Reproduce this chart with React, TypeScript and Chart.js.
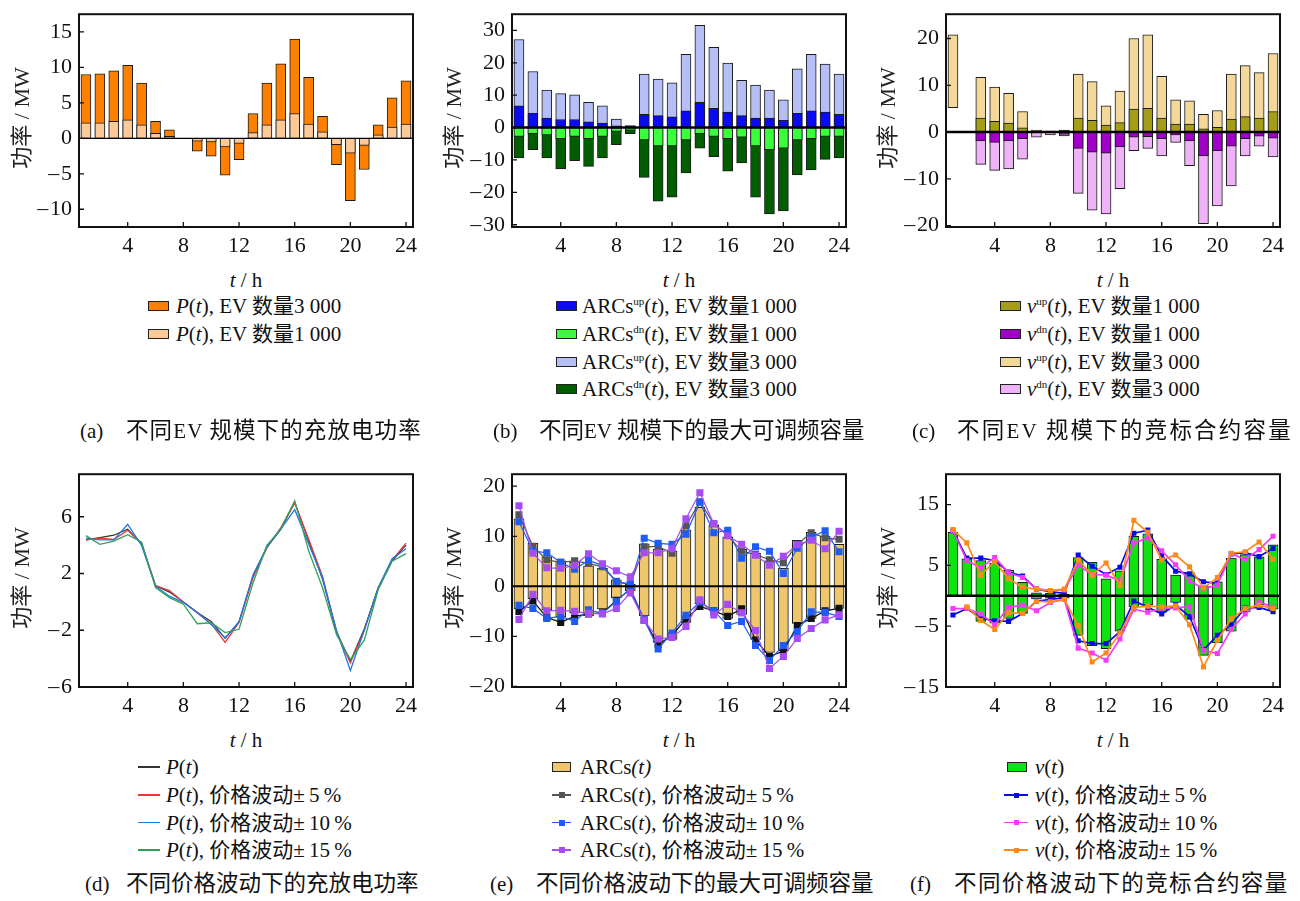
import React, { useEffect, useRef } from "react";
import { Chart, registerables } from "chart.js";
Chart.register(...registerables);
Chart.defaults.font.family = "'Liberation Serif', serif";
Chart.defaults.font.size = 22;

// ---------------- DATA ----------------
const hours = [1, 2, 3, 4, 5, 6, 7, 8, 9, 10, 11, 12, 13, 14, 15, 16, 17, 18, 19, 20, 21, 22, 23, 24];
const xTicks = [4, 8, 12, 16, 20, 24];

// (a)
const aTicks = [-10, -5, 0, 5, 10, 15];
const pEv3000 = [9.0, 9.1, 9.5, 10.3, 7.8, 2.4, 1.2, null, -1.8, -2.5, -5.2, -3.0, 3.5, 7.8, 10.5, 14.0, 8.6, 3.1, -3.7, -8.8, -4.4, 1.9, 5.7, 8.1];
const pEv1000 = [2.2, 2.2, 2.4, 2.6, 1.9, 0.7, 0.3, null, -0.4, -0.5, -1.2, -0.7, 0.8, 1.9, 2.6, 3.5, 2.0, 0.9, -0.9, -2.1, -1.0, 0.5, 1.6, 2.0];

// (b)
const bTicks = [-30, -20, -10, 0, 10, 20, 30];
const arcsUp1000 = [6.7, 4.4, 2.9, 2.5, 2.5, 1.8, 1.4, 0.5, 0.4, 4.1, 3.7, 3.3, 5.2, 7.8, 5.9, 4.8, 3.7, 2.9, 2.9, 2.2, 4.4, 5.2, 4.8, 4.1];
const arcsDn1000 = [-2.7, -1.9, -2.3, -3.4, -2.7, -3.4, -2.7, -1.2, -0.8, -3.8, -5.7, -5.7, -3.8, -1.9, -2.7, -3.4, -3.0, -5.7, -6.8, -6.4, -3.8, -3.4, -2.7, -2.7];
const arcsUp3000 = [27.2, 17.3, 11.6, 10.5, 10.1, 7.8, 6.7, 2.6, 0.6, 16.5, 15.0, 13.8, 22.6, 31.6, 24.8, 19.9, 14.6, 13.1, 11.6, 8.6, 18.1, 22.6, 19.6, 16.5];
const arcsDn3000 = [-9.4, -6.8, -9.4, -12.8, -10.2, -12.0, -9.4, -5.3, -1.9, -15.4, -22.7, -21.5, -14.0, -6.4, -9.0, -13.5, -10.9, -21.5, -26.7, -25.7, -14.6, -13.1, -9.8, -9.4];

// (c)
const cTicks = [-20, -10, 0, 10, 20];
const vUp1000 = [null, null, 3.0, 2.3, 1.9, 0.9, null, null, 0.3, 3.0, 2.5, 1.5, 2.0, 4.9, 5.1, 3.0, 1.7, 1.7, 0.7, 1.0, 2.8, 3.3, 3.0, 4.4];
const vDn1000 = [null, null, -1.9, -2.2, -1.9, -1.4, null, null, -0.5, -3.5, -4.3, -4.5, -3.2, -1.1, -1.0, -1.4, -0.6, -1.9, -5.1, -4.0, -3.0, -1.4, -0.9, -1.3];
const vUp3000 = [20.8, null, 11.7, 9.6, 8.3, 4.4, 0.4, 0.2, 0.4, 12.4, 10.8, 5.6, 8.75, 20.0, 20.8, 11.9, 6.9, 6.7, 3.8, 4.6, 12.4, 14.2, 12.7, 16.8];
const vUp3000Base = [5.2, 0, 0, 0, 0, 0, 0, 0, 0, 0, 0, 0, 0, 0, 0, 0, 0, 0, 0, 0, 0, 0, 0, 0];
const vDn3000 = [null, null, -6.9, -8.2, -7.9, -5.8, -1.1, -0.6, -0.8, -13.1, -16.7, -17.5, -12.1, -4.0, -3.5, -5.1, -2.2, -7.2, -19.6, -15.8, -11.5, -5.1, -3.0, -5.3];

// (d)
const dTicks = [-6, -2, 2, 6];
const pBase = [4.37, 4.53, 4.7, 5.13, 4.1, 1.15, 0.69, 0.0, -0.74, -1.38, -2.57, -1.4, 1.8, 3.86, 5.1, 7.03, 4.3, 1.6, -2.1, -4.2, -1.9, 1.0, 2.9, 4.0];
const pVol5 = [4.37, 4.5, 4.4, 5.05, 4.1, 1.15, 0.8, 0.0, -0.78, -1.54, -2.85, -1.45, 1.7, 3.8, 5.24, 6.97, 4.44, 1.8, -2.1, -4.3, -2.0, 1.0, 2.94, 4.14];
const pVol10 = [4.5, 4.37, 4.37, 5.47, 3.98, 1.1, 0.4, -0.05, -0.74, -1.6, -2.53, -1.42, 1.9, 3.86, 5.13, 6.5, 4.1, 1.7, -2.0, -4.83, -2.0, 1.0, 3.05, 3.74];
const pVol15 = [4.67, 4.05, 4.28, 4.74, 4.2, 1.0, 0.3, -0.16, -1.54, -1.47, -2.16, -1.93, 1.33, 3.98, 5.13, 7.13, 3.6, 1.0, -2.3, -4.07, -2.7, 0.87, 2.87, 3.4];

// (e)
const eTicks = [-20, -10, 0, 10, 20];
const arcsLow = [-4.5, -2.5, -4.7, -6.1, -5.3, -5.9, -4.5, -2.3, -0.9, -5.9, -11.2, -10.6, -7.2, -3.5, -4.8, -6.4, -5.6, -10.6, -13.2, -12.9, -7.4, -6.4, -4.7, -4.4];
const arcsHigh = [13.5, 8.6, 5.9, 5.1, 4.8, 4.1, 3.6, 1.3, 0.4, 8.5, 7.4, 7.0, 11.3, 15.8, 12.3, 9.9, 7.4, 6.6, 5.1, 3.6, 9.2, 10.8, 10.0, 8.4];
const arcsUp5 = [14.3, 8.0, 5.3, 4.8, 5.1, 4.6, 3.9, 1.0, 0.3, 7.9, 8.0, 6.6, 12.1, 16.9, 12.5, 10.2, 7.0, 6.4, 5.3, 4.7, 8.4, 10.7, 9.7, 9.4];
const arcsDn5 = [-5.0, -2.9, -6.2, -7.2, -6.0, -5.5, -5.3, -2.8, -0.6, -6.8, -11.6, -9.8, -6.5, -4.0, -4.9, -6.0, -4.5, -10.7, -14.0, -12.9, -7.8, -6.4, -4.9, -4.4];
const arcsUp10 = [12.9, 7.1, 6.7, 4.8, 3.4, 5.2, 4.2, 0.9, 0.5, 9.6, 8.6, 8.4, 10.4, 16.8, 10.7, 11.2, 5.6, 7.9, 7.0, 2.6, 7.6, 9.8, 11.1, 6.9];
const arcsDn10 = [-3.8, -4.4, -6.4, -6.0, -7.0, -4.7, -5.4, -3.0, -0.4, -6.6, -12.5, -9.3, -5.8, -3.1, -4.9, -7.8, -7.0, -11.8, -14.8, -11.8, -9.0, -5.1, -5.2, -6.0];
const arcsUp15 = [16.1, 6.6, 3.7, 3.6, 4.2, 6.5, 4.5, 3.1, 1.9, 6.7, 6.7, 7.5, 13.5, 18.7, 12.5, 10.1, 8.4, 6.2, 4.2, 6.0, 8.3, 9.2, 7.5, 11.0];
const arcsDn15 = [-6.6, -1.6, -4.9, -4.8, -5.0, -5.4, -5.5, -4.4, -1.3, -6.8, -10.5, -10.2, -8.0, -2.7, -5.7, -3.6, -5.3, -8.8, -16.4, -14.0, -10.4, -8.4, -6.7, -5.7];

// (f)
const fTicks = [-15, -5, 5, 15];
const vLow = [0, 0, -4.2, -4.5, -3.7, -2.9, -0.5, -0.4, -0.4, -6.5, -8.2, -8.7, -5.8, -1.8, -1.5, -2.7, -1.1, -3.9, -9.8, -7.7, -5.8, -2.6, -1.5, -2.2];
const vHigh = [10.45, 6.1, 5.8, 5.4, 4.2, 2.2, 0.5, 0.4, 0.3, 6.3, 5.5, 2.8, 4.1, 9.8, 10.2, 6.0, 3.4, 3.8, 1.65, 2.3, 6.2, 6.8, 6.4, 8.4];
const vUp5 = [10.7, 6.2, 6.2, 5.8, 3.9, 3.25, 1.1, 0.7, 0.4, 6.7, 4.85, 3.5, 4.7, 10.3, 10.8, 6.6, 4.05, 3.6, 2.3, 2.1, 6.9, 7.1, 6.45, 7.8];
const vDn5 = [-3.15, -2.1, -3.7, -4.1, -4.2, -2.9, -0.9, -0.6, -0.3, -7.4, -7.85, -7.85, -5.9, -0.85, -1.9, -3.0, -1.5, -3.4, -8.9, -6.5, -4.75, -2.0, -1.9, -2.6];
const vUp10 = [10.7, 5.8, 4.6, 6.3, 3.8, 3.0, 1.2, 0.85, 0.95, 5.0, 3.5, 3.4, 2.45, 8.7, 9.5, 7.4, 5.1, 2.45, 1.2, 1.75, 6.9, 6.0, 7.6, 9.8];
const vDn10 = [-2.1, -2.1, -3.0, -4.75, -1.9, -1.55, -2.45, -1.1, -0.6, -8.6, -9.4, -10.6, -7.1, -2.2, -2.7, -2.1, -2.0, -1.8, -9.0, -9.5, -5.5, -3.0, -1.0, -1.9];
const vUp15 = [10.9, 8.7, 3.4, 5.65, 2.8, 1.4, 1.1, 0.85, 1.1, 5.9, 3.4, 5.4, 1.75, 12.4, 10.45, 5.9, 6.7, 4.75, 1.3, 3.0, 7.0, 7.25, 8.85, 6.0];
const vDn15 = [null, -1.8, -4.05, -5.55, -2.8, -2.9, -0.9, -1.0, -0.6, -4.9, -10.9, -9.4, -6.1, -1.9, -1.7, -1.8, -1.65, -4.75, -11.7, -7.3, -3.8, -2.1, -1.55, -2.1];

// ---------------- HELPERS ----------------
const SERIF = "'Liberation Serif', serif";
const MIX = "'Liberation Serif', 'Noto Sans CJK SC', serif";

const pts = (arr: (number | null)[]) =>
  hours.map((h, i) => ({ x: h, y: arr[i] })).filter((p) => p.y !== null);
const ranges = (lo: (number | null)[], hi: (number | null)[]) =>
  hours
    .map((h, i) => ({ x: h, y: hi[i] === null || lo[i] === null ? null : [lo[i], hi[i]] }))
    .filter((p) => p.y !== null);

const bar = (data: any[], color: string) => ({
  type: "bar",
  data,
  backgroundColor: color,
  borderColor: "#1a1a1a",
  borderWidth: 1,
  borderSkipped: false,
  barThickness: 10,
  grouped: false,
});
const line = (data: any[], color: string, opts: any = {}) => ({
  type: "line",
  data,
  borderColor: color,
  backgroundColor: color,
  borderWidth: 1.3,
  pointRadius: 0,
  pointStyle: "rect",
  tension: 0,
  fill: false,
  ...opts,
});

const framePlugin = {
  id: "frame",
  afterDatasetsDraw(chart: any, _args: any, opts: any) {
    const { ctx, chartArea: a, scales } = chart;
    const xs = scales.x;
    const ys = scales.y;
    ctx.save();
    if (opts && opts.zero) {
      const y0 = ys.getPixelForValue(0);
      ctx.strokeStyle = "#000";
      ctx.lineWidth = opts.zero;
      ctx.beginPath();
      ctx.moveTo(a.left, y0);
      ctx.lineTo(a.right, y0);
      ctx.stroke();
    }
    ctx.strokeStyle = "#111";
    ctx.lineWidth = 1.3;
    ctx.beginPath();
    xs.ticks.forEach((t: any) => {
      const px = xs.getPixelForValue(t.value);
      ctx.moveTo(px, a.bottom);
      ctx.lineTo(px, a.bottom - 5);
    });
    ys.ticks.forEach((t: any) => {
      const py = ys.getPixelForValue(t.value);
      ctx.moveTo(a.left, py);
      ctx.lineTo(a.left + 5, py);
    });
    ctx.stroke();
    ctx.lineWidth = 2;
    ctx.strokeStyle = "#111";
    ctx.strokeRect(a.left, a.top, a.right - a.left, a.bottom - a.top);
    ctx.restore();
  },
};

const AXW = 66; // y axis width
const AXH = 34; // x axis height
const PADT = 14;
const PADR = 20;
const PW = 334;
const PH = 219;

type PanelProps = {
  left: number;
  top: number;
  yMin: number;
  yMax: number;
  yTicks: number[];
  zero: number;
  datasets: any[];
};

function Panel({ left, top, yMin, yMax, yTicks, zero, datasets }: PanelProps) {
  const ref = useRef<HTMLCanvasElement>(null);
  useEffect(() => {
    const chart = new Chart(ref.current as HTMLCanvasElement, {
      type: "bar",
      data: { datasets } as any,
      options: {
        animation: false,
        responsive: false,
        devicePixelRatio: 1,
        layout: { padding: { left: 0, right: PADR, top: PADT, bottom: 0 } },
        plugins: {
          legend: { display: false },
          tooltip: { enabled: false },
          frame: { zero },
        } as any,
        scales: {
          x: {
            type: "linear",
            min: 0.5,
            max: 24.5,
            offset: false,
            grid: { display: false, drawTicks: false },
            border: { display: false },
            afterBuildTicks: (s: any) => {
              s.ticks = xTicks.map((v) => ({ value: v }));
            },
            afterFit: (s: any) => {
              s.height = AXH;
            },
            ticks: {
              font: { family: SERIF, size: 22 },
              color: "#111",
              padding: 6,
              maxRotation: 0,
              autoSkip: false,
            },
          },
          y: {
            type: "linear",
            min: yMin,
            max: yMax,
            grid: { display: false, drawTicks: false },
            border: { display: false },
            afterBuildTicks: (s: any) => {
              s.ticks = yTicks.map((v) => ({ value: v }));
            },
            afterFit: (s: any) => {
              s.width = AXW;
            },
            ticks: {
              font: { family: SERIF, size: 22 },
              color: "#111",
              padding: 7,
              autoSkip: false,
              callback: (v: any) =>
                Number(v) < 0 ? "\u2013\u200A" + Math.abs(Number(v)) : String(v),
            },
          },
        } as any,
      } as any,
      plugins: [framePlugin as any],
    });
    return () => chart.destroy();
  }, []);
  const w = AXW + PW + PADR;
  const h = PADT + PH + AXH;
  return (
    <canvas
      ref={ref}
      width={w}
      height={h}
      style={{ position: "absolute", left: left - AXW, top: top - PADT, width: w, height: h }}
    />
  );
}

// ---------------- TEXT ----------------
const baseText: React.CSSProperties = {
  position: "absolute",
  whiteSpace: "pre",
  fontFamily: MIX,
  fontSize: 21,
  color: "#111",
  lineHeight: "24px",
  height: 24,
};

function Txt({ x, y, children, center = false, size = 21, font, spacing }: any) {
  return (
    <div
      style={{
        ...baseText,
        fontSize: size,
        fontFamily: font || MIX,
        letterSpacing: spacing,
        left: x,
        top: y - 12,
        transform: center ? "translateX(-50%)" : undefined,
      }}
    >
      {children}
    </div>
  );
}

const It = ({ children }: any) => <span style={{ fontStyle: "italic" }}>{children}</span>;
const Sup = ({ children }: any) => (
  <span style={{ fontSize: 11, position: "relative", top: -8, lineHeight: 0 }}>{children}</span>
);

function YTitle({ x, y }: any) {
  return (
    <div
      style={{
        ...baseText,
        fontSize: 22,
        left: x,
        top: y,
        transform: "translate(-50%, -50%) rotate(-90deg)",
        color: "#222",
      }}
    >
      功率 / MW
    </div>
  );
}

function XTitle({ x, y }: any) {
  return (
    <Txt x={x} y={y} center>
      <It>t</It> / h
    </Txt>
  );
}

function BoxSw({ x, y, color, w = 21 }: any) {
  return (
    <div
      style={{
        position: "absolute",
        left: x,
        top: y - 5,
        width: w,
        height: 10,
        background: color,
        border: "1px solid #222",
        boxSizing: "border-box",
      }}
    />
  );
}

function LineSw({ x, y, color, w = 22, marker = 0 }: any) {
  return (
    <>
      <div style={{ position: "absolute", left: x, top: y - 0.75, width: w, height: 1.5, background: color }} />
      {marker > 0 && (
        <div
          style={{
            position: "absolute",
            left: x + w / 2 - marker / 2,
            top: y - marker / 2,
            width: marker,
            height: marker,
            background: color,
          }}
        />
      )}
    </>
  );
}

const TS = "\u2009";

function Caption({ x, xt, y, tag, pre, post, spacing = 0 }: any) {
  return (
    <>
      <Txt x={x} y={y} size={21} font={SERIF}>
        {tag}
      </Txt>
      <Txt x={xt} y={y} size={22.5} spacing={spacing}>
        {pre}
        <span style={{ fontFamily: SERIF, fontSize: 21 }}>{post ? "EV " : ""}</span>
        {post}
      </Txt>
    </>
  );
}

// ---------------- APP ----------------
export default function App() {
  const topY = 8;
  const botY = 468;
  const rowsTop = [306, 334, 361.5, 389];
  const rowsBot = [767, 795, 822.5, 850];

  const aSets = [bar(pts(pEv1000), "#FDC998"), bar(pts(pEv3000), "#FF8000")];
  const bSets = [
    bar(pts(arcsUp1000), "#0A0AF5"),
    bar(pts(arcsDn1000), "#3CFF3C"),
    bar(pts(arcsUp3000), "#B6BEF6"),
    bar(pts(arcsDn3000), "#005E00"),
  ];
  const cSets = [
    bar(pts(vUp1000), "#A39D17"),
    bar(pts(vDn1000), "#A000C8"),
    bar(ranges(vUp3000Base, vUp3000), "#F3D89A"),
    bar(pts(vDn3000), "#EEB2F6"),
  ];
  const dSets = [
    line(pts(pVol15), "#2EA25A", { borderWidth: 1.3 }),
    line(pts(pVol10), "#1E78E6", { borderWidth: 1.3 }),
    line(pts(pVol5), "#E8383A", { borderWidth: 1.3 }),
    line(pts(pBase), "#333333", { borderWidth: 1.2 }),
  ];
  const em = { pointRadius: 5, pointBorderWidth: 0, borderWidth: 1.2 };
  const eSets = [
    line(pts(arcsUp15), "#A64CF2", em),
    line(pts(arcsDn15), "#A64CF2", em),
    line(pts(arcsUp10), "#1E5CF5", em),
    line(pts(arcsDn10), "#1E5CF5", em),
    line(pts(arcsUp5), "#555555", em),
    line(pts(arcsDn5), "#111111", em),
    bar(ranges(arcsLow, arcsHigh), "#EEC66B"),
  ];
  const fm = { pointRadius: 3.6, pointBorderWidth: 0, borderWidth: 1.7 };
  const fSets = [
    line(pts(vUp15), "#FF8A1C", fm),
    line(pts(vDn15), "#FF8A1C", fm),
    line(pts(vUp10), "#F53CF5", fm),
    line(pts(vDn10), "#F53CF5", fm),
    line(pts(vUp5), "#0A0AE6", fm),
    line(pts(vDn5), "#0A0AE6", fm),
    bar(ranges(vLow, vHigh), "#0EE30E"),
  ];

  return (
    <div
      style={{
        position: "absolute",
        left: 0,
        top: 0,
        width: 1300,
        height: 901,
        overflow: "hidden",
        background: "#fff",
      }}
    >
      <Panel left={79} top={topY} yMin={-12.5} yMax={17.5} yTicks={aTicks} zero={1.4} datasets={aSets} />
      <Panel left={512} top={topY} yMin={-30.7} yMax={35} yTicks={bTicks} zero={2.4} datasets={bSets} />
      <Panel left={946} top={topY} yMin={-20.3} yMax={25.2} yTicks={cTicks} zero={2.4} datasets={cSets} />
      <Panel left={79} top={botY} yMin={-6} yMax={9} yTicks={dTicks} zero={0} datasets={dSets} />
      <Panel left={512} top={botY} yMin={-20.1} yMax={22.4} yTicks={eTicks} zero={2} datasets={eSets} />
      <Panel left={946} top={botY} yMin={-15} yMax={20} yTicks={fTicks} zero={2.4} datasets={fSets} />

      <YTitle x={22} y={117.5} />
      <YTitle x={454} y={117.5} />
      <YTitle x={887.5} y={117.5} />
      <YTitle x={22} y={577.5} />
      <YTitle x={454} y={577.5} />
      <YTitle x={887.5} y={577.5} />

      <XTitle x={246} y={280} />
      <XTitle x={679} y={280} />
      <XTitle x={1113} y={280} />
      <XTitle x={246} y={740} />
      <XTitle x={679} y={740} />
      <XTitle x={1113} y={740} />

      {/* legend (a) */}
      <BoxSw x={148} y={rowsTop[0]} color="#FF8000" />
      <Txt x={176} y={rowsTop[0]}>
        <It>P</It>(<It>t</It>), EV 数量3 000
      </Txt>
      <BoxSw x={148} y={rowsTop[1]} color="#FDC998" />
      <Txt x={176} y={rowsTop[1]}>
        <It>P</It>(<It>t</It>), EV 数量1 000
      </Txt>

      {/* legend (b) */}
      {[
        ["#0A0AF5", "up", "1"],
        ["#3CFF3C", "dn", "1"],
        ["#B6BEF6", "up", "3"],
        ["#005E00", "dn", "3"],
      ].map(([c, s, n], i) => (
        <React.Fragment key={"b" + i}>
          <BoxSw x={556} y={rowsTop[i]} color={c} />
          <Txt x={582} y={rowsTop[i]}>
            ARCs<Sup>{s}</Sup>(<It>t</It>), EV 数量{n} 000
          </Txt>
        </React.Fragment>
      ))}

      {/* legend (c) */}
      {[
        ["#A39D17", "up", "1"],
        ["#A000C8", "dn", "1"],
        ["#F3D89A", "up", "3"],
        ["#EEB2F6", "dn", "3"],
      ].map(([c, s, n], i) => (
        <React.Fragment key={"c" + i}>
          <BoxSw x={1000} y={rowsTop[i]} color={c} />
          <Txt x={1027} y={rowsTop[i]}>
            <It>v</It>
            <Sup>{s}</Sup>(<It>t</It>), EV 数量{n} 000
          </Txt>
        </React.Fragment>
      ))}

      {/* legend (d) */}
      <LineSw x={138} y={rowsBot[0]} color="#333333" />
      <Txt x={166} y={rowsBot[0]}>
        <It>P</It>(<It>t</It>)
      </Txt>
      {[
        ["#E8383A", "5"],
        ["#1E78E6", "10"],
        ["#2EA25A", "15"],
      ].map(([c, p], i) => (
        <React.Fragment key={"d" + i}>
          <LineSw x={138} y={rowsBot[i + 1]} color={c} />
          <Txt x={166} y={rowsBot[i + 1]}>
            <It>P</It>(<It>t</It>), 价格波动±{TS}
            {p}
            {TS}%
          </Txt>
        </React.Fragment>
      ))}

      {/* legend (e) */}
      <BoxSw x={552} y={rowsBot[0]} color="#EEC66B" w={19} />
      <Txt x={580} y={rowsBot[0]}>
        ARCs<It>(t)</It>
      </Txt>
      {[
        ["#555555", "5"],
        ["#1E5CF5", "10"],
        ["#A64CF2", "15"],
      ].map(([c, p], i) => (
        <React.Fragment key={"e" + i}>
          <LineSw x={552} y={rowsBot[i + 1]} color={c} w={19} marker={6} />
          <Txt x={580} y={rowsBot[i + 1]}>
            ARCs(<It>t</It>), 价格波动±{TS}
            {p}
            {TS}%
          </Txt>
        </React.Fragment>
      ))}

      {/* legend (f) */}
      <BoxSw x={1007} y={rowsBot[0]} color="#0EE30E" w={20} />
      <Txt x={1035} y={rowsBot[0]}>
        <It>v</It>(<It>t</It>)
      </Txt>
      {[
        ["#0A0AE6", "5"],
        ["#F53CF5", "10"],
        ["#FF8A1C", "15"],
      ].map(([c, p], i) => (
        <React.Fragment key={"f" + i}>
          <LineSw x={1004} y={rowsBot[i + 1]} color={c} w={24} marker={5} />
          <Txt x={1035} y={rowsBot[i + 1]}>
            <It>v</It>(<It>t</It>), 价格波动±{TS}
            {p}
            {TS}%
          </Txt>
        </React.Fragment>
      ))}

      {/* captions */}
      <Caption x={80} xt={126} y={431} tag="(a)" pre="不同" post="规模下的充放电功率" spacing={1.1} />
      <Caption x={493} xt={539} y={431} tag="(b)" pre="不同" post="规模下的最大可调频容量" />
      <Caption x={912} xt={957} y={431} tag="(c)" pre="不同" post="规模下的竞标合约容量" spacing={2.2} />
      <Caption x={85} xt={126} y={884} tag="(d)" pre="不同价格波动下的充放电功率" post="" />
      <Caption x={490} xt={536} y={884} tag="(e)" pre="不同价格波动下的最大可调频容量" post="" />
      <Caption x={910} xt={954} y={884} tag="(f)" pre="不同价格波动下的竞标合约容量" post="" spacing={1.4} />
    </div>
  );
}
